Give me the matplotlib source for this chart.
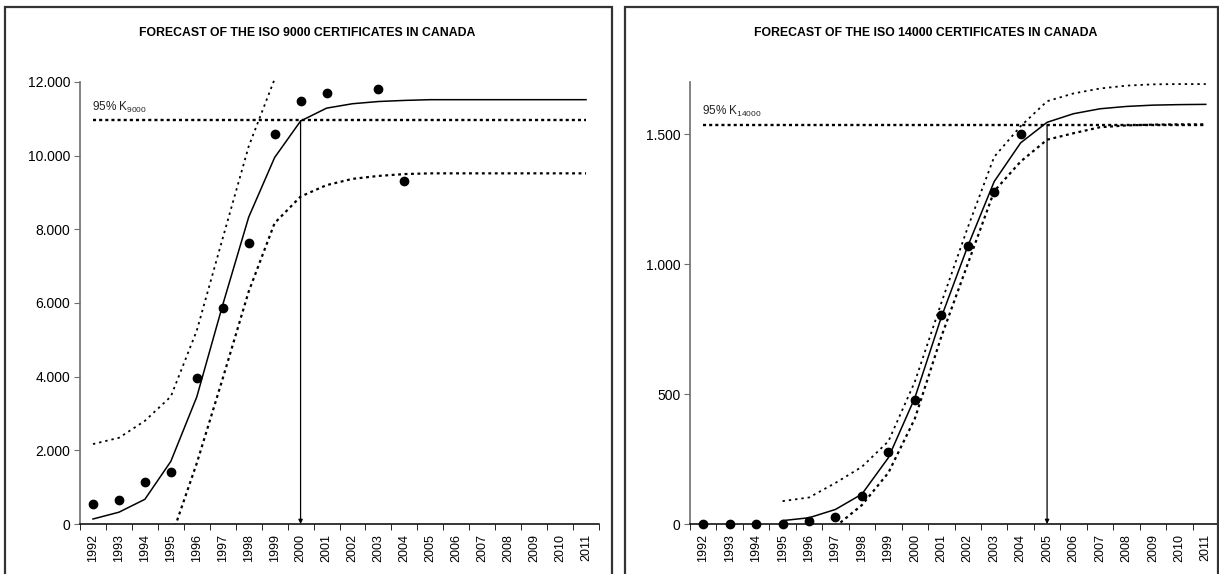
import numpy as np
import matplotlib.pyplot as plt
from matplotlib.patches import Rectangle
from matplotlib.ticker import FuncFormatter

plt.rcParams["font.family"] = ["Liberation Sans", "DejaVu Sans"]
plt.rcParams["mathtext.fontset"] = "custom"
plt.rcParams["mathtext.rm"] = "Liberation Sans"

nan = np.nan
years = [str(y) for y in range(1992, 2012)]

# ISO 9000 (Canada)
iso9000_actual = [535, 665, 1150, 1415, 3970, 5860, 7620, 10590, 11480, 11690,
                  nan, 11810, 9310, nan, nan, nan, nan, nan, nan, nan]
iso9000_fit = [136, 320, 670, 1700, 3450, 5950, 8330, 9950, 10940, 11290,
               11410, 11470, 11500, 11520, 11520, 11520, 11520, 11520, 11520, 11520]
iso9000_upper = [2170, 2340, 2800, 3460, 5250, 7760, 10250, 12080, nan, nan,
                 nan, nan, nan, nan, nan, nan, nan, nan, nan, nan]
iso9000_lower = [nan, nan, nan, -400, 1650, 3950, 6310, 8170, 8890, 9200,
                 9370, 9450, 9500, 9520, 9520, 9520, 9520, 9520, 9520, 9520]
iso9000_k95 = 10955
iso9000_year95 = "2000"

# ISO 14000 (Canada)
iso14000_actual = [0, 0, 0, 0, 13, 28, 108, 277, 477, 805,
                   1070, 1278, 1500, nan, nan, nan, nan, nan, nan, nan]
iso14000_fit = [nan, nan, nan, 13, 24, 56, 115, 255, 485, 795,
                1068, 1317, 1466, 1545, 1578, 1597, 1606, 1611, 1613, 1614]
iso14000_upper = [nan, nan, nan, 88, 102, 158, 220, 318, 547, 850,
                  1140, 1412, 1530, 1626, 1656, 1675, 1686, 1691, 1692, 1692]
iso14000_lower = [nan, nan, nan, nan, nan, -10, 73, 197, 405, 720,
                  1000, 1280, 1394, 1478, 1503, 1526, 1533, 1536, 1537, 1537]
iso14000_k95 = 1536
iso14000_year95 = "2005"

W, H = 1219, 574
fig = plt.figure(figsize=(W / 100, H / 100), dpi=100)


def thousands(v, _):
    return "{:,.0f}".format(v).replace(",", ".")


def draw_panel(ax, actual, fit, upper, lower, k95, year95, label, ymax, yticks):
    x = np.arange(len(years))
    ax.plot(x, upper, ls=(0, (1.3, 2.2)), lw=1.3, c="black", clip_on=False)
    ax.plot(x, lower, ls=(0, (1.3, 1.6)), lw=1.6, c="black")
    ax.plot(x, fit, lw=1.1, c="black")
    ax.plot(x, actual, "o", ms=6, c="black", clip_on=False)
    ax.hlines(k95, 0, len(years) - 1, colors="black", lw=1.7,
              linestyles=[(0, (1.3, 1.3))])
    ax.annotate(label, xy=(0, k95), xytext=(-1, 4), textcoords="offset points",
                fontsize=8.5, ha="left", va="bottom", color="#222222")
    xi = years.index(year95)
    ax.annotate("", xy=(xi, 0), xytext=(xi, k95),
                arrowprops=dict(arrowstyle="-|>", lw=0.9, color="black",
                                mutation_scale=6, shrinkA=0, shrinkB=0))

    ax.set_xlim(-0.5, len(years) - 0.5)
    ax.set_ylim(0, ymax)
    ax.set_xticks(x)
    ax.set_xticklabels(years, rotation=90, fontsize=9)
    ax.set_xticks(np.arange(-0.5, len(years), 1), minor=True)
    ax.tick_params(axis="x", which="major", length=0, pad=7)
    ax.tick_params(axis="x", which="minor", length=4, color="black")
    ax.set_yticks(yticks)
    ax.yaxis.set_major_formatter(FuncFormatter(thousands))
    ax.tick_params(axis="y", length=4, color="#6e6e6e", labelsize=10, pad=3)
    for s in ["top", "right"]:
        ax.spines[s].set_visible(False)
    ax.spines["left"].set_color("#6e6e6e")
    ax.spines["left"].set_linewidth(1.2)
    ax.spines["bottom"].set_color("black")
    ax.spines["bottom"].set_linewidth(1.1)


ax1 = fig.add_axes([80 / W, 50 / H, 519 / W, 442 / H])
draw_panel(ax1, iso9000_actual, iso9000_fit, iso9000_upper, iso9000_lower,
           iso9000_k95, iso9000_year95, "95% K$_{\\mathrm{9000}}$",
           12000, range(0, 12001, 2000))

ax2 = fig.add_axes([690 / W, 50 / H, 529 / W, 442 / H])
draw_panel(ax2, iso14000_actual, iso14000_fit, iso14000_upper, iso14000_lower,
           iso14000_k95, iso14000_year95, "95% K$_{\\mathrm{14000}}$",
           1700, [0, 500, 1000, 1500])

fig.text(307 / W, 1 - 33 / H, "FORECAST OF THE ISO 9000 CERTIFICATES IN CANADA",
         ha="center", va="center", fontsize=8.8, fontweight="bold")
fig.text(926 / W, 1 - 33 / H, "FORECAST OF THE ISO 14000 CERTIFICATES IN CANADA",
         ha="center", va="center", fontsize=8.8, fontweight="bold")

# panel frames
for x0, x1 in [(5, 612), (625, 1218)]:
    fig.patches.append(Rectangle((x0 / W, -0.1), (x1 - x0) / W, (H - 7) / H + 0.1,
                                 transform=fig.transFigure, fill=False,
                                 lw=1.6, edgecolor="#333333"))

fig.savefig("out.png", dpi=100)
